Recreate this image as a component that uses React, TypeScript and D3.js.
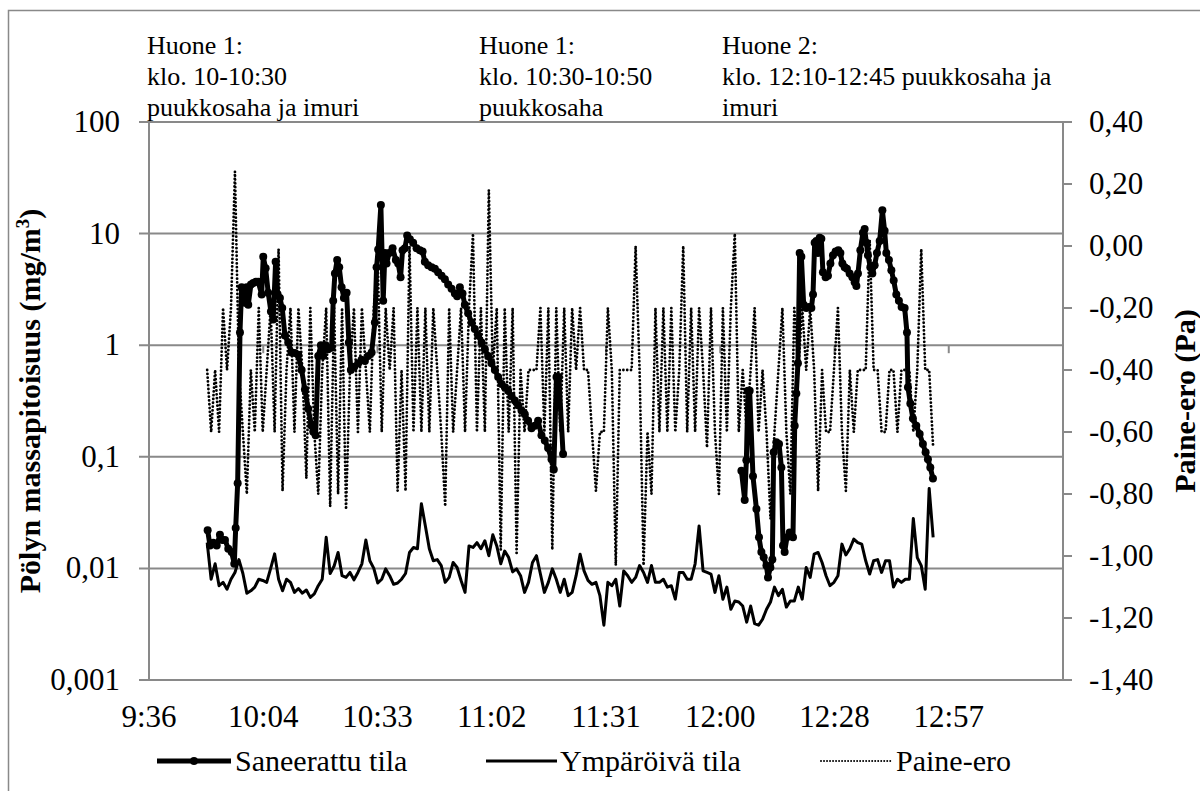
import React from 'react';
import * as d3 from 'd3';

// Saneerattu tila, two measuring periods (clock time, mg/m3)
const saneerattu1: [string, number][] = [
  ['9:50:47', 0.022], ['9:51:22', 0.016], ['9:52:12', 0.017], ['9:53:04', 0.016], ['9:53:53', 0.02],
  ['9:54:28', 0.018], ['9:55:09', 0.018], ['9:55:59', 0.015], ['9:56:50', 0.014], ['9:57:30', 0.011],
  ['9:57:51', 0.023], ['9:58:21', 0.058], ['9:58:56', 1.3], ['9:59:21', 3.3], ['9:59:45', 3.2],
  ['10:00:11', 2.4], ['10:00:37', 3.3], ['10:01:01', 2.3], ['10:01:42', 3.5], ['10:02:17', 3.6],
  ['10:02:57', 3.7], ['10:03:32', 3.7], ['10:04:24', 2.85], ['10:04:48', 6.2], ['10:05:24', 4.9],
  ['10:06:03', 2.95], ['10:06:44', 2.0], ['10:07:19', 1.7], ['10:07:55', 5.6], ['10:08:26', 2.85],
  ['10:09:00', 2.65], ['10:09:35', 2.15], ['10:10:16', 1.22], ['10:11:06', 1.06], ['10:11:57', 0.86],
  ['10:12:47', 0.85], ['10:13:37', 0.82], ['10:14:28', 0.6], ['10:15:18', 0.4], ['10:16:08', 0.27],
  ['10:16:59', 0.19], ['10:17:24', 0.168], ['10:18:00', 0.156], ['10:18:40', 0.8], ['10:19:20', 1.0],
  ['10:19:55', 0.8], ['10:20:31', 1.0], ['10:21:10', 0.92], ['10:22:02', 0.95], ['10:22:26', 2.5],
  ['10:22:52', 4.4], ['10:23:26', 5.8], ['10:23:57', 5.0], ['10:24:33', 3.3], ['10:25:08', 2.65],
  ['10:25:49', 2.95], ['10:26:23', 1.06], ['10:26:53', 0.6], ['10:27:44', 0.64], ['10:28:44', 0.69],
  ['10:29:35', 0.74], ['10:30:25', 0.72], ['10:31:15', 0.8], ['10:32:07', 0.86], ['10:32:56', 1.6],
  ['10:33:22', 5.0], ['10:33:46', 7.2], ['10:34:27', 18], ['10:35:02', 2.5], ['10:35:28', 6.7],
  ['10:35:53', 5.4], ['10:36:32', 6.7], ['10:37:24', 7.4], ['10:38:14', 5.8], ['10:38:49', 5.4],
  ['10:39:25', 4.06], ['10:39:55', 7.1], ['10:40:30', 7.4], ['10:41:05', 9.6], ['10:41:46', 8.9],
  ['10:42:35', 8.3], ['10:43:27', 7.4], ['10:44:17', 7.1], ['10:44:58', 6.9], ['10:45:32', 5.6],
  ['10:46:22', 5.2], ['10:47:14', 5.0], ['10:48:04', 4.85], ['10:48:53', 4.5], ['10:49:45', 4.2],
  ['10:50:35', 3.9], ['10:51:25', 3.5], ['10:52:16', 3.2], ['10:53:06', 2.9], ['10:53:41', 2.75],
  ['10:54:22', 3.3], ['10:55:02', 2.9], ['10:55:37', 2.3], ['10:56:27', 1.93], ['10:57:19', 1.6],
  ['10:58:08', 1.4], ['10:58:58', 1.22], ['10:59:50', 1.06], ['11:00:40', 0.92], ['11:01:29', 0.8],
  ['11:02:20', 0.69], ['11:03:11', 0.6], ['11:04:01', 0.52], ['11:04:52', 0.45], ['11:05:42', 0.42],
  ['11:06:32', 0.39], ['11:07:23', 0.35], ['11:08:13', 0.32], ['11:09:03', 0.29], ['11:09:54', 0.26],
  ['11:10:44', 0.24], ['11:11:34', 0.21], ['11:12:25', 0.18], ['11:13:15', 0.19], ['11:14:05', 0.21],
  ['11:14:56', 0.156], ['11:15:46', 0.14], ['11:16:36', 0.12], ['11:17:28', 0.095], ['11:18:02', 0.077],
  ['11:18:43', 0.52], ['11:19:18', 0.52], ['11:20:23', 0.106],
];

const saneerattu2: [string, number][] = [
  ['12:05:20', 0.075], ['12:06:10', 0.041], ['12:06:35', 0.093], ['12:06:59', 0.39], ['12:07:25', 0.39],
  ['12:08:15', 0.067], ['12:09:07', 0.034], ['12:09:46', 0.019], ['12:10:22', 0.014], ['12:10:57', 0.0126],
  ['12:11:38', 0.0106], ['12:12:02', 0.0083], ['12:12:38', 0.0102], ['12:13:08', 0.012], ['12:13:28', 0.11],
  ['12:14:09', 0.135], ['12:14:49', 0.13], ['12:15:25', 0.08], ['12:15:49', 0.016], ['12:16:14', 0.014],
  ['12:16:49', 0.019], ['12:17:30', 0.021], ['12:18:20', 0.019], ['12:18:46', 0.19], ['12:19:11', 0.37],
  ['12:19:35', 0.69], ['12:20:01', 6.7], ['12:20:27', 6.2], ['12:21:02', 2.3], ['12:21:43', 2.15],
  ['12:22:22', 2.2], ['12:22:58', 2.15], ['12:23:23', 2.85], ['12:23:48', 8.3], ['12:24:14', 8.6],
  ['12:24:38', 6.7], ['12:25:04', 9.2], ['12:25:29', 9.0], ['12:25:53', 4.5], ['12:26:34', 4.06],
  ['12:27:09', 4.2], ['12:27:46', 5.4], ['12:28:25', 6.4], ['12:29:05', 6.9], ['12:29:46', 7.1],
  ['12:30:17', 6.7], ['12:30:47', 5.4], ['12:31:22', 5.0], ['12:31:56', 4.85], ['12:32:37', 4.4],
  ['12:33:18', 4.06], ['12:33:53', 3.66], ['12:34:19', 3.4], ['12:34:43', 4.4], ['12:35:19', 7.1],
  ['12:35:58', 10.2], ['12:36:24', 11], ['12:36:50', 8.3], ['12:37:14', 6.4], ['12:37:50', 5.0],
  ['12:38:20', 4.4], ['12:38:55', 5.2], ['12:39:30', 6.7], ['12:40:11', 8.6], ['12:40:52', 16.2],
  ['12:41:26', 10.6], ['12:41:52', 6.7], ['12:42:31', 5.8], ['12:43:08', 4.7], ['12:43:43', 3.8],
  ['12:44:23', 2.85], ['12:45:02', 2.5], ['12:45:43', 2.2], ['12:46:29', 2.15], ['12:47:04', 1.3],
  ['12:47:19', 0.42], ['12:47:55', 0.3], ['12:48:34', 0.22], ['12:49:25', 0.19], ['12:50:16', 0.16],
  ['12:51:05', 0.13], ['12:51:46', 0.11], ['12:52:21', 0.095], ['12:52:57', 0.08], ['12:53:37', 0.064],
];

// Ympäröivä tila and Paine-ero, logged once a minute from this time
const loggerStart = '9:50:40';

const ambient = [
  0.017, 0.008, 0.011, 0.007, 0.0075, 0.0065, 0.008, 0.0092, 0.012, 0.009,
  0.006, 0.0063, 0.0068, 0.008, 0.0078, 0.0075, 0.01, 0.0135, 0.008, 0.0063,
  0.008, 0.0075, 0.0061, 0.0066, 0.006, 0.0064, 0.0055, 0.0059, 0.007, 0.008,
  0.019, 0.009, 0.0105, 0.0139, 0.0086, 0.0083, 0.0092, 0.0079, 0.0092, 0.011,
  0.018, 0.0117, 0.01, 0.0074, 0.008, 0.0099, 0.0086, 0.0072, 0.0074, 0.008,
  0.009, 0.0139, 0.0154, 0.015, 0.038, 0.024, 0.015, 0.0117, 0.012, 0.0106,
  0.0075, 0.0083, 0.0113, 0.0102, 0.0078, 0.0061, 0.0159, 0.0154, 0.017, 0.015,
  0.0177, 0.013, 0.02, 0.0159, 0.011, 0.0143, 0.0125, 0.0093, 0.0099, 0.0086,
  0.0061, 0.0075, 0.0113, 0.013, 0.0089, 0.0061, 0.0075, 0.0099, 0.008, 0.0061,
  0.008, 0.0057, 0.0061, 0.0086, 0.0134, 0.0095, 0.0078, 0.0072, 0.0075, 0.0057,
  0.0031, 0.0075, 0.007, 0.008, 0.0046, 0.0095, 0.0086, 0.0075, 0.0083, 0.0106,
  0.0092, 0.0075, 0.0106, 0.0075, 0.0075, 0.008, 0.0068, 0.007, 0.0053, 0.0092,
  0.0092, 0.008, 0.008, 0.011, 0.024, 0.0095, 0.0092, 0.0089, 0.0061, 0.0086,
  0.0053, 0.0068, 0.0043, 0.0051, 0.005, 0.0046, 0.0033, 0.0046, 0.0032, 0.0031,
  0.0035, 0.0043, 0.005, 0.0068, 0.0057, 0.0065, 0.0045, 0.0051, 0.0051, 0.0068,
  0.0053, 0.0102, 0.0083, 0.0134, 0.0139, 0.0113, 0.0086, 0.007, 0.0075, 0.0086,
  0.0165, 0.0132, 0.015, 0.0183, 0.017, 0.0165, 0.0117, 0.0089, 0.0117, 0.012,
  0.0092, 0.0117, 0.0117, 0.0068, 0.008, 0.0075, 0.008, 0.008, 0.028, 0.0125,
  0.0106, 0.0065, 0.052, 0.019,
];

const pressure = [
  -0.4, -0.6, -0.4, -0.6, -0.2, -0.4, -0.2, 0.24, -0.4, -0.6,
  -0.8, -0.4, -0.6, -0.2, -0.6, -0.4, -0.2, -0.6, -0.01, -0.79,
  -0.4, -0.2, -0.6, -0.2, -0.4, -0.75, -0.2, -0.6, -0.8, -0.4,
  -0.2, -0.84, -0.2, -0.8, -0.2, -0.85, -0.4, -0.2, -0.6, -0.2,
  -0.4, -0.6, -0.2, -0.05, -0.6, -0.2, -0.4, -0.2, -0.79, -0.4,
  -0.79, 0.0, -0.6, -0.2, -0.6, -0.2, -0.6, -0.2, -0.4, -0.6,
  -0.84, -0.2, -0.6, -0.4, -0.2, -0.6, -0.2, 0.04, -0.6, -0.2,
  -0.6, 0.18, -0.4, -0.2, -0.98, -0.2, -0.6, -0.2, -0.99, -0.4,
  -0.6, -0.4, -0.4, -0.4, -0.2, -0.6, -0.2, -0.98, -0.2, -0.6,
  -0.2, -0.6, -0.2, -0.4, -0.2, -0.4, -0.4, -0.6, -0.79, -0.6,
  -0.6, -0.2, -0.4, -1.03, -0.4, -0.4, -0.4, -0.4, 0.0, -0.4,
  -1.03, -0.6, -0.8, -0.2, -0.6, -0.2, -0.6, -0.2, -0.6, -0.4,
  0.0, -0.6, -0.2, -0.6, -0.2, -0.4, -0.65, -0.2, -0.6, -0.8,
  -0.2, -0.6, -0.2, 0.04, -0.6, -0.4, -0.6, -0.4, -0.2, -0.6,
  -0.4, -0.6, -0.88, -0.6, -0.4, -0.2, -0.6, -0.8, -0.2, -0.4,
  -0.2, -0.4, -0.2, -0.4, -0.79, -0.4, -0.6, -0.6, -0.4, -0.2,
  -0.6, -0.79, -0.4, -0.6, -0.4, -0.4, -0.4, 0.02, -0.4, -0.4,
  -0.6, -0.6, -0.4, -0.4, -0.6, -0.4, -0.4, -0.4, -0.6, -0.4,
  -0.01, -0.4, -0.4, -0.65,
];

const leftTicks = [0.001, 0.01, 0.1, 1, 10, 100];
const leftTickLabels = ['0,001', '0,01', '0,1', '1', '10', '100'];
const rightTicks = [-1.4, -1.2, -1.0, -0.8, -0.6, -0.4, -0.2, 0, 0.2, 0.4];
const xTickLabels = ['9:36', '10:04', '10:33', '11:02', '11:31', '12:00', '12:28', '12:57'];
const xStart = '9:36:00';
const xEnd = '13:26:24';

const notes = [
  ['Huone 1:', 'klo. 10-10:30', 'puukkosaha ja imuri'],
  ['Huone 1:', 'klo. 10:30-10:50', 'puukkosaha'],
  ['Huone 2:', 'klo. 12:10-12:45 puukkosaha ja', 'imuri'],
];
const legendNames = ['Saneerattu tila', 'Ympäröivä tila', 'Paine-ero'];

const FONT = '"Liberation Serif", "DejaVu Serif", "Times New Roman", serif';
const GRID = '#898989';

export default function App() {
  const W = 1200;
  const H = 791;
  const left = 149;
  const right = 1063;
  const top = 122;
  const bottom = 680;

  const parseT = d3.timeParse('%H:%M:%S');
  const x = d3.scaleTime().domain([parseT(xStart)!, parseT(xEnd)!]).range([left, right]);
  const yL = d3.scaleLog().domain([0.001, 100]).range([bottom, top]);
  const yR = d3.scaleLinear().domain([-1.4, 0.4]).range([bottom, top]);

  const fi = d3.formatLocale({ decimal: ',', thousands: ' ', grouping: [3], currency: ['', ''], minus: '-' });
  const fmtR = fi.format('.2f');

  const t0 = parseT(loggerStart)!;
  const ambientPts = ambient.map((v, i) => [d3.timeMinute.offset(t0, i), v] as [Date, number]);
  const pressurePts = pressure.map((v, i) => [d3.timeMinute.offset(t0, i), v] as [Date, number]);

  const segs = [saneerattu1, saneerattu2].map((s) => s.map(([t, v]) => [parseT(t)!, v] as [Date, number]));

  const lineL = d3.line<[Date, number]>().x((d) => x(d[0])).y((d) => yL(d[1]));
  const lineR = d3.line<[Date, number]>().x((d) => x(d[0])).y((d) => yR(d[1]));

  // x ticks every 0.02 day
  const xTicks = d3.range(9).map((k) => new Date(parseT(xStart)!.getTime() + k * 28.8 * 60000));
  const yOne = yL(1);

  const noteX = [147, 479, 722];
  const noteY = [54, 85, 116];

  const legY = 761;
  const dots = { stroke: '#000', strokeWidth: 2.8, strokeDasharray: '0.01 3.8', strokeLinecap: 'round' as const };

  return (
    <svg
      width={W}
      height={H}
      style={{ position: 'absolute', left: 0, top: 0, background: '#fff', fontFamily: FONT }}
      fontFamily={FONT}
    >
      <rect x={0} y={0} width={W} height={H} fill="#fff" />
      <rect x={8.5} y={10.5} width={1400} height={1000} fill="none" stroke={GRID} strokeWidth={1.5} />

      {/* gridlines */}
      {leftTicks.map((t) => (
        <line key={'g' + t} x1={left - 10} x2={right} y1={yL(t)} y2={yL(t)} stroke={GRID} strokeWidth={2} />
      ))}
      <line x1={left} x2={left} y1={top} y2={bottom} stroke={GRID} strokeWidth={2} />
      <line x1={right} x2={right} y1={top} y2={bottom} stroke={GRID} strokeWidth={2} />
      {rightTicks.map((t) => (
        <line key={'r' + t} x1={right} x2={right + 9} y1={yR(t)} y2={yR(t)} stroke={GRID} strokeWidth={2} />
      ))}
      {xTicks.map((t, i) => (
        <line key={'x' + i} x1={x(t)} x2={x(t)} y1={yOne} y2={yOne + 8} stroke={GRID} strokeWidth={2} />
      ))}

      {/* tick labels */}
      {leftTicks.map((t, i) => (
        <text key={'lt' + t} x={120} y={yL(t) + 10} textAnchor="end" fontSize={31} fontFamily={FONT}>
          {leftTickLabels[i]}
        </text>
      ))}
      {rightTicks.map((t) => (
        <text key={'rt' + t} x={1089} y={yR(t) + 10} fontSize={31} fontFamily={FONT}>
          {fmtR(t)}
        </text>
      ))}
      {xTickLabels.map((s, i) => (
        <text key={'xt' + s} x={x(xTicks[i])} y={727} textAnchor="middle" fontSize={31} fontFamily={FONT}>
          {s}
        </text>
      ))}

      {/* series */}
      <path d={lineR(pressurePts) || ''} fill="none" {...dots} />
      <path d={lineL(ambientPts) || ''} fill="none" stroke="#000" strokeWidth={3} strokeLinejoin="round" />
      {segs.map((s, k) => (
        <g key={'s' + k}>
          <path d={lineL(s) || ''} fill="none" stroke="#000" strokeWidth={5} strokeLinejoin="round" />
          {s.map((d, j) => (
            <circle key={j} cx={x(d[0])} cy={yL(d[1])} r={4} fill="#000" />
          ))}
        </g>
      ))}

      {/* annotations */}
      {notes.map((lines, k) => (
        <g key={'n' + k}>
          {lines.map((l, j) => (
            <text key={j} x={noteX[k]} y={noteY[j]} fontSize={26} fontFamily={FONT}>
              {l}
            </text>
          ))}
        </g>
      ))}

      {/* axis titles */}
      <text transform="translate(40,401) rotate(-90)" textAnchor="middle" fontSize={30} fontWeight="bold" fontFamily={FONT}>
        Pölyn massapitoisuus (mg/m<tspan dy={-11} fontSize={19}>3</tspan>
        <tspan dy={11}>)</tspan>
      </text>
      <text transform="translate(1195,401) rotate(-90)" textAnchor="middle" fontSize={30} fontWeight="bold" fontFamily={FONT}>
        Paine-ero (Pa)
      </text>

      {/* legend */}
      <line x1={157} x2={231} y1={legY} y2={legY} stroke="#000" strokeWidth={5} />
      <circle cx={194} cy={legY} r={4} fill="#000" />
      <text x={235} y={legY + 10} fontSize={30} fontFamily={FONT}>{legendNames[0]}</text>
      <line x1={486} x2={557} y1={legY} y2={legY} stroke="#000" strokeWidth={3} />
      <text x={560} y={legY + 10} fontSize={30} fontFamily={FONT}>{legendNames[1]}</text>
      <line x1={821} x2={892} y1={legY} y2={legY} {...dots} strokeWidth={2} strokeDasharray="0.01 3" />
      <text x={896} y={legY + 10} fontSize={30} fontFamily={FONT}>{legendNames[2]}</text>
    </svg>
  );
}
